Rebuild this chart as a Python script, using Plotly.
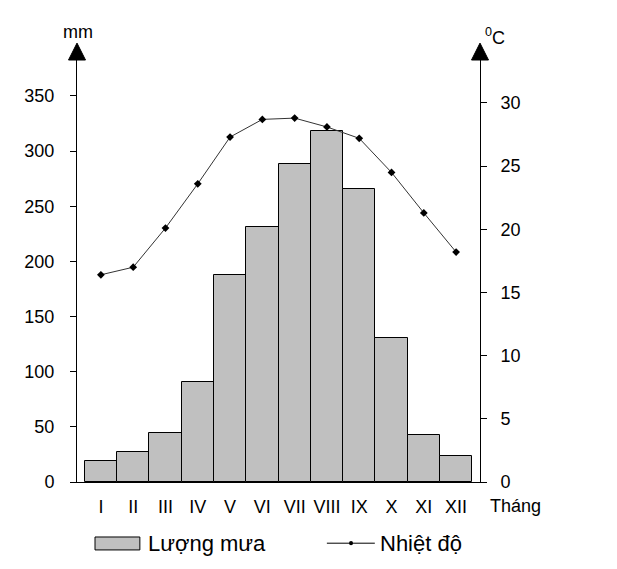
import plotly.graph_objects as go

months = ["I", "II", "III", "IV", "V", "VI", "VII", "VIII", "IX", "X", "XI", "XII"]
rain_mm = [19, 27, 44, 91, 188, 231, 288, 318, 266, 131, 43, 24]
temp_c = [16.4, 17.0, 20.1, 23.6, 27.3, 28.7, 28.8, 28.1, 27.2, 24.5, 21.3, 18.2]
rain_ticks = [0, 50, 100, 150, 200, 250, 300, 350]
temp_ticks = [0, 5, 10, 15, 20, 25, 30]

FONT = "Liberation Sans, Arial, sans-serif"

fig = go.Figure()
fig.add_trace(go.Bar(
    x=months, y=rain_mm, name="Lượng mưa",
    marker=dict(color="#c0c0c0", line=dict(color="black", width=1)),
    showlegend=False,
))
fig.add_trace(go.Scatter(
    x=months, y=temp_c, name="Nhiệt độ", yaxis="y2", mode="lines+markers",
    line=dict(color="#333333", width=1),
    marker=dict(symbol="diamond", size=6, color="black"),
    showlegend=False,
))

# page body adds an 8px margin, so the figure is sized to fit the window
fig.update_layout(
    width=601, height=553,
    margin=dict(l=69, r=129, t=52, b=79),
    paper_bgcolor="white", plot_bgcolor="white",
    font=dict(family=FONT, size=18, color="black"),
    bargap=0,
    xaxis=dict(
        type="category", showline=True, linecolor="black", linewidth=1,
        ticks="outside", ticklen=0, ticklabelstandoff=8,
        showgrid=False, zeroline=False,
        tickfont=dict(size=18),
    ),
    yaxis=dict(
        range=[0, 382.6], tickvals=rain_ticks, showline=True, linecolor="black",
        linewidth=1, ticks="outside", ticklen=6, tickcolor="black",
        showgrid=False, zeroline=False, ticklabelstandoff=12,
    ),
    yaxis2=dict(
        range=[0, 33.4], tickvals=temp_ticks, overlaying="y", side="right",
        showline=True, linecolor="black", linewidth=1, ticks="outside",
        ticklen=6, tickcolor="black", showgrid=False, zeroline=False,
        ticklabelstandoff=10,
    ),
)

# axis arrows
hw = 8.5 / 403
for x0 in (0, 1):
    fig.add_shape(type="path", xref="paper", yref="paper",
                  path=f"M {x0-hw},1.0 L {x0+hw},1.0 L {x0},1.040 Z",
                  fillcolor="black", line=dict(color="black", width=1))

fig.add_annotation(text="mm", xref="paper", yref="paper", x=0.002, y=1.066,
                   showarrow=False, font=dict(size=18), xanchor="center", yanchor="middle")
fig.add_annotation(text="<sup>0</sup>C", xref="paper", yref="paper", x=1.036, y=1.056,
                   showarrow=False, font=dict(size=18), xanchor="center", yanchor="middle")
fig.add_annotation(text="Tháng", xref="paper", yref="paper", x=1.02, y=-0.057,
                   showarrow=False, font=dict(size=18), xanchor="left", yanchor="middle")

# legend
fig.add_shape(type="rect", xref="paper", yref="paper", x0=0.0447, x1=0.156,
              y0=-0.161, y1=-0.1303, fillcolor="#c0c0c0", line=dict(color="black", width=1))
fig.add_annotation(text="Lượng mưa", xref="paper", yref="paper", x=0.172, y=-0.145,
                   showarrow=False, font=dict(size=22), xanchor="left", yanchor="middle")
fig.add_shape(type="line", xref="paper", yref="paper", x0=0.620, x1=0.739,
              y0=-0.145, y1=-0.145, line=dict(color="black", width=1))
fig.add_shape(type="circle", xref="paper", yref="paper", x0=0.680 - 0.005, x1=0.680 + 0.005,
              y0=-0.145 - 0.005, y1=-0.145 + 0.005, fillcolor="black", line=dict(color="black", width=0))
fig.add_annotation(text="Nhiệt độ", xref="paper", yref="paper", x=0.748, y=-0.145,
                   showarrow=False, font=dict(size=22), xanchor="left", yanchor="middle")

fig.write_html("out.html")
